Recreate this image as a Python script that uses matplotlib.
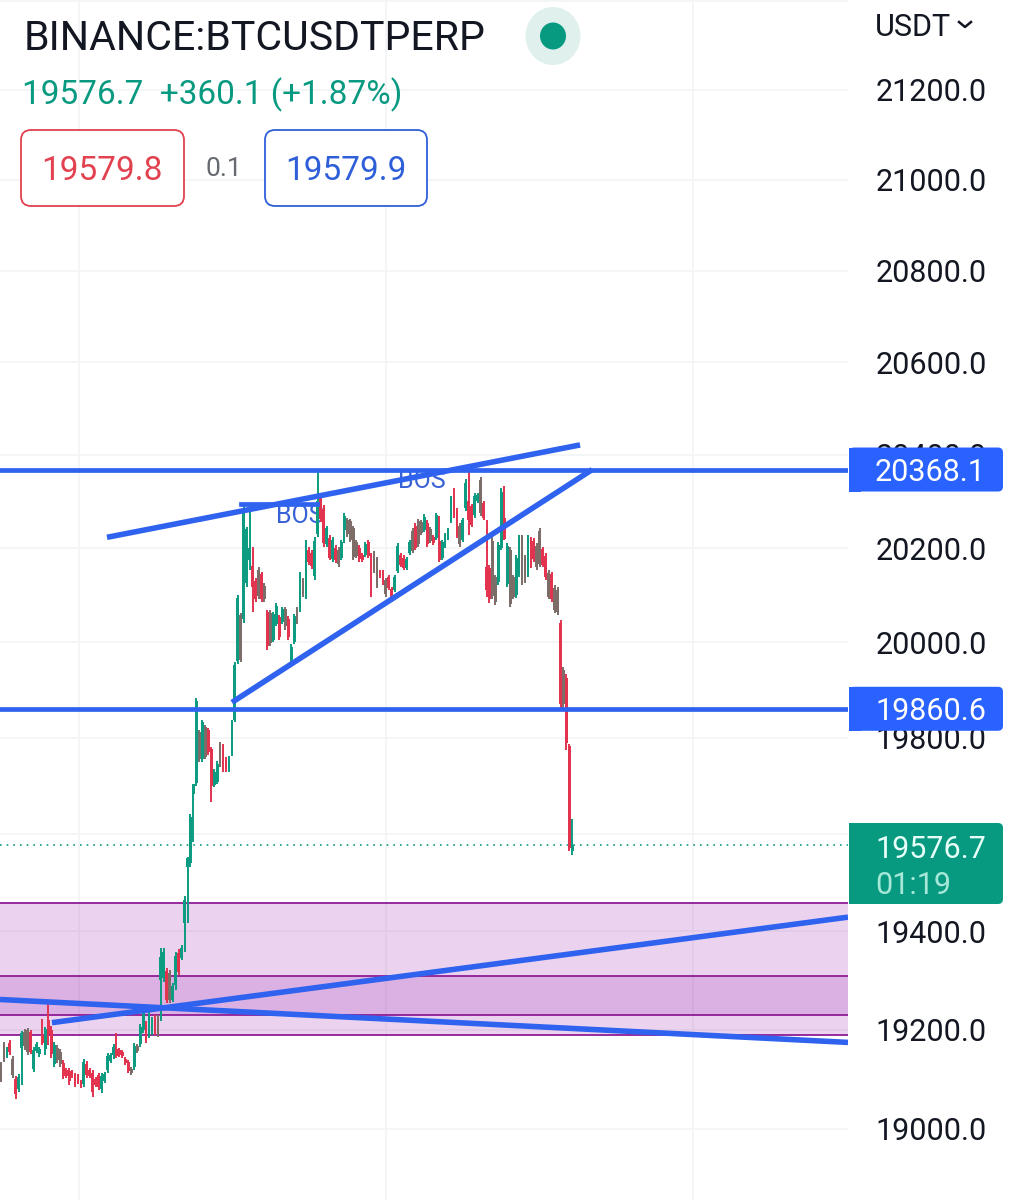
import numpy as np
import matplotlib
matplotlib.use("Agg")
import matplotlib.pyplot as plt
from matplotlib.patches import FancyBboxPatch, Rectangle, Ellipse

plt.rcParams['font.family'] = ['Roboto', 'DejaVu Sans']

# candles, oldest first
opens = [19100, 19168, 19146, 19172, 19140, 19100, 19080, 19162, 19196, 19200, 19195, 19120, 19156, 19150,
         19190, 19160, 19220, 19200, 19130, 19162, 19154, 19132, 19118, 19116, 19114, 19108, 19105,
         19094, 19090, 19130, 19118, 19112, 19100, 19108, 19080, 19096, 19118, 19136, 19148, 19160, 19158, 19154,
         19140, 19134, 19120, 19124, 19166, 19170, 19200, 19212, 19190, 19200, 19222, 19224, 19300, 19305, 19318,
         19314, 19260, 19290, 19356, 19345, 19418, 19531, 19540, 19683, 19705, 19812, 19755, 19822, 19816,
         19776, 19702, 19708, 19786, 19780, 19754, 19732, 19766, 19838, 19960, 20058, 20050, 20125, 20175,
         20162, 20130, 20154, 20144, 20120, 20064, 20062, 20006, 20040, 20054, 20044, 20070, 20050,
         19964, 20002, 20068, 20072, 20130, 20098, 20196, 20190, 20140, 20230, 20312, 20284, 20208,
         20222, 20176, 20200, 20196, 20180, 20238, 20260, 20258, 20242, 20212, 20200, 20186, 20186, 20212,
         20184, 20188, 20176, 20150, 20150, 20132, 20138, 20114, 20110, 20152, 20185, 20180, 20158, 20190,
         20236, 20248, 20258, 20256, 20238, 20254, 20240, 20224, 20222, 20215, 20180, 20204, 20220, 20258,
         20300, 20280, 20248, 20218, 20285, 20300, 20290, 20270, 20300, 20345, 20296, 20160, 20158, 20215,
         20138, 20128, 20200, 20265, 20124, 20196, 20138, 20100, 20145, 20224, 20180, 20145, 20218, 20216,
         20205, 20236, 20198, 20184, 20148, 20144, 20116, 20112, 20042, 19942, 19925, 19782, 19565]
highs = [19134, 19174, 19164, 19178, 19146, 19106, 19110, 19198, 19202, 19204, 19200, 19164, 19174, 19165,
         19222, 19206, 19255, 19208, 19174, 19168, 19160, 19138, 19122, 19122, 19118, 19112, 19110,
         19098, 19140, 19136, 19122, 19118, 19104, 19112, 19112, 19114, 19152, 19152, 19170, 19194, 19162, 19158,
         19144, 19138, 19124, 19172, 19170, 19212, 19245, 19218, 19239, 19225, 19229, 19229, 19365, 19365, 19325,
         19320, 19294, 19357, 19363, 19371, 19473, 19552, 19641, 19703, 19884, 19817, 19838, 19827, 19821,
         19781, 19734, 19751, 19792, 19786, 19759, 19761, 19838, 19958, 20101, 20063, 20295, 20246, 20295,
         20202, 20137, 20160, 20149, 20126, 20069, 20069, 20065, 20084, 20059, 20076, 20076, 20055,
         19996, 20061, 20074, 20149, 20137, 20217, 20202, 20196, 20223, 20370, 20318, 20291, 20248,
         20227, 20223, 20206, 20202, 20217, 20274, 20265, 20263, 20248, 20217, 20206, 20189, 20213, 20217,
         20189, 20194, 20181, 20154, 20154, 20137, 20143, 20118, 20143, 20210, 20189, 20185, 20181, 20217,
         20242, 20253, 20263, 20261, 20272, 20259, 20244, 20227, 20276, 20269, 20217, 20232, 20242, 20312,
         20328, 20286, 20253, 20265, 20347, 20373, 20295, 20318, 20318, 20352, 20301, 20259, 20164, 20223,
         20143, 20213, 20328, 20333, 20210, 20202, 20143, 20185, 20227, 20229, 20185, 20227, 20223, 20221,
         20210, 20242, 20202, 20189, 20154, 20149, 20122, 20118, 20048, 19949, 19933, 19786, 19631]
lows = [19094, 19134, 19142, 19148, 19102, 19060, 19075, 19088, 19158, 19148, 19150, 19114, 19152, 19145,
        19168, 19148, 19168, 19142, 19124, 19132, 19124, 19100, 19102, 19088, 19102, 19084, 19090,
        19082, 19084, 19102, 19102, 19064, 19084, 19078, 19072, 19092, 19112, 19132, 19140, 19142, 19144, 19142,
        19128, 19112, 19108, 19118, 19152, 19164, 19194, 19172, 19182, 19190, 19188, 19184, 19218, 19296, 19253,
        19253, 19255, 19280, 19310, 19341, 19357, 19418, 19533, 19583, 19699, 19749, 19749, 19755, 19765,
        19666, 19697, 19703, 19740, 19728, 19728, 19728, 19761, 19832, 19954, 19958, 20042, 20118, 20154,
        20065, 20086, 20091, 20086, 20086, 19985, 19992, 20000, 20034, 20006, 20038, 20027, 20006,
        19958, 19996, 20038, 20065, 20097, 20091, 20164, 20156, 20133, 20223, 20255, 20202, 20202,
        20175, 20171, 20168, 20160, 20175, 20210, 20223, 20213, 20175, 20179, 20171, 20171, 20181, 20179,
        20097, 20147, 20116, 20137, 20122, 20097, 20112, 20086, 20107, 20147, 20160, 20154, 20154, 20185,
        20189, 20196, 20202, 20227, 20234, 20202, 20211, 20206, 20217, 20171, 20175, 20200, 20217, 20253,
        20265, 20221, 20202, 20213, 20280, 20227, 20244, 20265, 20297, 20269, 20259, 20097, 20084, 20091,
        20080, 20122, 20196, 20217, 20118, 20076, 20091, 20095, 20139, 20122, 20126, 20139, 20158, 20171,
        20154, 20160, 20160, 20133, 20091, 20086, 20063, 20059, 19863, 19863, 19775, 19565, 19556]
closes = [19128, 19140, 19160, 19154, 19108, 19070, 19105, 19194, 19166, 19154, 19155, 19158, 19170, 19160,
          19172, 19202, 19192, 19150, 19168, 19138, 19130, 19106, 19106, 19096, 19106, 19090, 19095,
          19086, 19134, 19108, 19106, 19074, 19088, 19084, 19106, 19110, 19146, 19148, 19165, 19146, 19148, 19146,
          19132, 19116, 19112, 19166, 19156, 19206, 19238, 19178, 19232, 19220, 19194, 19190, 19347, 19358, 19260,
          19260, 19288, 19350, 19316, 19366, 19465, 19550, 19635, 19703, 19876, 19755, 19832, 19760, 19770,
          19700, 19728, 19746, 19746, 19734, 19732, 19756, 19832, 19952, 20094, 19964, 20285, 20240, 20200,
          20118, 20092, 20098, 20092, 20092, 19992, 19998, 20060, 20078, 20012, 20070, 20034, 20012,
          19990, 20056, 20044, 20142, 20104, 20210, 20170, 20162, 20216, 20300, 20262, 20210, 20242,
          20180, 20218, 20174, 20166, 20212, 20268, 20230, 20218, 20182, 20184, 20176, 20174, 20208, 20184,
          20170, 20152, 20122, 20140, 20128, 20102, 20116, 20090, 20138, 20205, 20164, 20158, 20176, 20212,
          20194, 20200, 20208, 20232, 20266, 20208, 20216, 20210, 20270, 20175, 20212, 20228, 20238, 20306,
          20270, 20226, 20208, 20260, 20340, 20260, 20250, 20312, 20314, 20275, 20264, 20112, 20092, 20098,
          20086, 20206, 20320, 20220, 20204, 20082, 20096, 20180, 20220, 20128, 20132, 20222, 20164, 20176,
          20160, 20166, 20165, 20138, 20096, 20092, 20068, 20064, 19870, 19870, 19790, 19572, 19576.7]

price_ticks = [19000, 19200, 19400, 19600, 19800, 20000, 20200, 20400, 20600, 20800, 21000, 21200, 21400]
price_labels = ['19000.0', '19200.0', '19400.0', '', '19800.0', '20000.0', '20200.0', '20400.0',
                '20600.0', '20800.0', '21000.0', '21200.0', '']
time_grid = [26.4, 130, 233.8]

level_prices = [20368.1, 19860.6]
last_price = 19576.7
zones = [(19190, 19458), (19229, 19308)]
# trend lines as (bar, price) pairs
trends = [
    ((35.8, 20223), (195.6, 20421)),
    ((78, 19874), (199.7, 20368)),
    ((17.2, 19214), (286.1, 19429)),
    ((-0.34, 19261), (286.1, 19174)),
]
bos_line = ((81, 20295), (106.8, 20295))
bos_labels = [(101, 20269), (142, 20343)]

UP = '#0d9b82'
DOWN = '#e2334f'
MUTED = '#7d6d69'
BLUE = '#2f62ee'
PURPLE = '#8e1c96'
GRID = '#f3f4f7'
# bars that read as grey-brown in the screenshot
muted_bars = {0, 1, 4, 8, 9, 19, 20, 44, 46, 53, 57, 67, 69, 74, 81, 87, 89, 91, 96, 100, 102, 114, 117, 118,
              119, 120, 126, 127, 130, 139, 141, 142, 145, 155, 162, 166, 167, 172, 173, 176, 177, 181, 182,
              185, 187, 188, 190}

W, H = 1013, 1200
fig = plt.figure(figsize=(W / 100, H / 100), dpi=100, facecolor='white')
ax = fig.add_axes([0, 0, 848 / W, 1])
ax.set_facecolor('white')
ax.set_yscale('log')
ax.set_ylim(18858, 21402)
ax.set_xlim(-0.34, 286.1)

ax.yaxis.tick_right()
ax.set_yticks(price_ticks)
ax.set_yticklabels(price_labels)
ax.minorticks_off()
ax.set_xticks(time_grid)
ax.tick_params(axis='y', length=0, pad=20, labelsize=22, labelcolor='#131722')
ax.tick_params(axis='x', length=0, labelbottom=False)
ax.grid(True, color=GRID, lw=1.3)
ax.set_axisbelow(True)
for s in ax.spines.values():
    s.set_visible(False)

for lo, hi in zones:
    ax.axhspan(lo, hi, color='#9c27b0', alpha=0.2, lw=0, zorder=1)
    ax.axhline(lo, color=PURPLE, lw=1.3, zorder=1.5)
    ax.axhline(hi, color=PURPLE, lw=1.3, zorder=1.5)

ax.axhline(last_price, color=UP, lw=1.2, ls=(0, (1, 3)), zorder=1.5)

for bar, price in bos_labels:
    ax.text(bar, price, 'BOS', color='#3a62d7', fontsize=18, ha='center', va='center', zorder=2)

# candles
bars = np.arange(len(opens))
opens = np.array(opens)
closes = np.array(closes)
colors = [MUTED if i in muted_bars else (UP if c >= o else DOWN)
          for i, (o, c) in enumerate(zip(opens, closes))]
ax.vlines(bars, lows, highs, colors=colors, lw=1.4, zorder=3)
ax.bar(bars, np.abs(closes - opens), bottom=np.minimum(opens, closes), width=0.95, color=colors, lw=0, zorder=3)

# drawings
for price in level_prices:
    ax.axhline(price, color=BLUE, lw=3.4, zorder=4)
for (x0, y0), (x1, y1) in trends:
    ax.plot([x0, x1], [y0, y1], color=BLUE, lw=4, solid_capstyle='butt', zorder=4)
ax.plot([bos_line[0][0], bos_line[1][0]], [bos_line[0][1], bos_line[1][1]], color=BLUE, lw=3.4, zorder=4)

# overlay in screen pixels for the header and the price tags
ov = fig.add_axes([0, 0, 1, 1], facecolor='none')
ov.set_xlim(0, W)
ov.set_ylim(H, 0)
ov.axis('off')


def price_px(price):
    return H - ax.transData.transform((0, price))[1]


def tag(y0, y1, color):
    ov.add_patch(FancyBboxPatch((849, y0), 154, y1 - y0, boxstyle='round,pad=0,rounding_size=5',
                                fc=color, ec='none', lw=0))
    ov.add_patch(Rectangle((849, y0), 12, y1 - y0, fc=color, ec='none'))


for price in level_prices:
    yc = price_px(price)
    tag(yc - 22, yc + 22, '#2962ff')
    ov.text(875, yc, f'{price:.1f}', color='white', fontsize=22, va='center_baseline', ha='left')

yc = price_px(last_price)
tag(823, 904, '#089981')
ov.text(875, yc + 1, f'{last_price:.1f}', color='#e6fff8', fontsize=22, va='center_baseline', ha='left')
ov.text(875, 882, '01:19', color='#a6e8d8', fontsize=22, va='center_baseline', ha='left')

# header
ov.text(24, 35, 'BINANCE:BTCUSDTPERP', color='#131722', fontsize=29.6, va='center_baseline', ha='left')
ov.add_patch(Ellipse((553, 36), 55, 58, fc='#e0f0ed', ec='none'))
ov.add_patch(Ellipse((553, 36), 26, 27, fc='#089981', ec='none'))
ov.text(22, 91, f'{last_price:.1f}  +360.1 (+1.87%)', color='#089981', fontsize=24,
        va='center_baseline', ha='left')

ov.add_patch(FancyBboxPatch((21, 130), 163, 76, boxstyle='round,pad=0,rounding_size=10',
                            fc='white', ec='#e2414f', lw=1.3))
ov.text(102, 167, '19579.8', color='#e2414f', fontsize=24, va='center_baseline', ha='center')
ov.text(224, 167, '0.1', color='#666a70', fontsize=19, va='center_baseline', ha='center')
ov.add_patch(FancyBboxPatch((265, 130), 162, 76, boxstyle='round,pad=0,rounding_size=10',
                            fc='white', ec='#2f5fd8', lw=1.3))
ov.text(346, 167, '19579.9', color='#2f5fd8', fontsize=24, va='center_baseline', ha='center')

ov.text(875, 24, 'USDT', color='#131722', fontsize=22, va='center_baseline', ha='left')
ov.plot([959, 965, 971], [22, 27, 22], color='#131722', lw=1.8)

fig.savefig('out.png', dpi=100)
